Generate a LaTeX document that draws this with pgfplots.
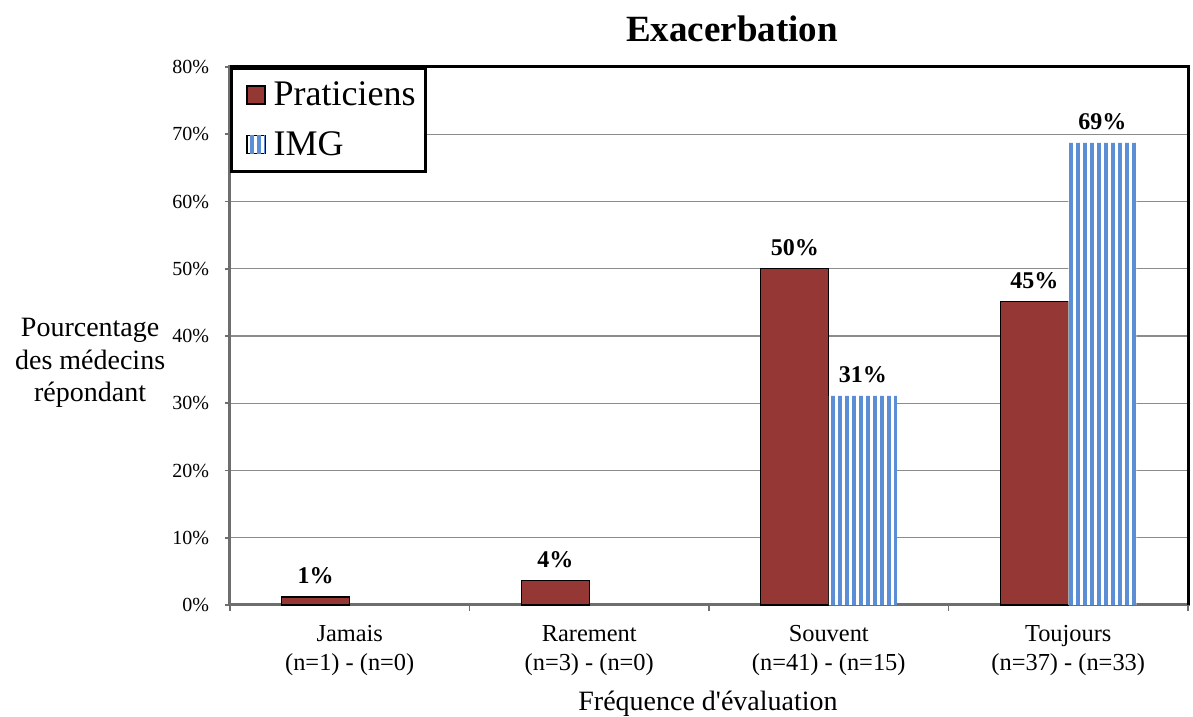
\documentclass[border=0pt]{standalone}
\usepackage{pgfplots}
\pgfplotsset{compat=1.18}
\usepackage{fontspec}
\setmainfont{Liberation Serif}
\usetikzlibrary{patterns.meta}

\definecolor{pratred}{RGB}{149,55,53}
\definecolor{imgblue}{RGB}{92,142,214}
\definecolor{gridgray}{RGB}{140,140,140}
\definecolor{axisgray}{RGB}{110,110,110}

\begin{document}
\begin{tikzpicture}
\begin{axis}[
  scale only axis,
  width=479pt, height=269pt,
  ybar=0pt, bar width=34pt,
  xmin=-0.5, xmax=3.5,
  ymin=0, ymax=80,
  /pgf/number format/assume math mode=true,
  xtick={0,1,2,3},
  xticklabels={{Jamais\\(n=1) - (n=0)},{Rarement\\(n=3) - (n=0)},
               {Souvent\\(n=41) - (n=15)},{Toujours\\(n=37) - (n=33)}},
  xticklabel style={align=center, font=\fontsize{12.2}{14.5}\selectfont, yshift=-4pt},
  major x tick style={draw=none},
  minor xtick={-0.5,0.5,1.5,2.5,3.5},
  minor x tick style={axisgray, line width=0.8pt},
  minor tick length=3pt,
  ytick={0,10,...,80},
  yticklabel={\pgfmathprintnumber{\tick}\%},
  yticklabel style={font=\fontsize{10}{12}\selectfont, xshift=-4.5pt},
  y tick style={axisgray, line width=0.8pt},
  major tick length=2.5pt,
  tick align=outside,
  xtick pos=bottom, ytick pos=left,
  ymajorgrids,
  grid style={gridgray, line width=0.6pt},
  axis line style={axisgray, line width=1.5pt},
  title={Exacerbation},
  every axis title shift=0pt,
  title style={font=\bfseries\fontsize{18.5}{22}\selectfont, inner sep=0pt,
               at={(rel axis cs:0.524,1.07)}, anchor=center, yshift=0pt},
  xlabel={Fréquence d\textquotesingle évaluation},
  xlabel style={font=\fontsize{14}{16}\selectfont, inner sep=0pt,
                at={(rel axis cs:0.499,-0.183)}, anchor=center},
  ylabel={Pourcentage\\des médecins\\répondant},
  ylabel style={font=\fontsize{14}{16.2}\selectfont, align=center,
                rotate=-90, at={(rel axis cs:-0.146,0.45)}, anchor=center},
  nodes near coords={\pgfmathprintnumber[fixed,precision=0]{\pgfplotspointmeta}\%},
  nodes near coords style={font=\bfseries\fontsize{12}{14}\selectfont,
                           black, yshift=3pt},
  legend style={at={(rel axis cs:0,1)}, anchor=north west,
                draw=black, line width=1.5pt, fill=white,
                font=\fontsize{18}{21}\selectfont,
                inner xsep=1pt, inner ysep=5.5pt, row sep=9.5pt,
                nodes={inner ysep=1pt, inner xsep=4pt}},
  legend cell align=left,
  legend image code/.code={
    \path (0pt,0pt);
    \draw[#1, line width=0.6pt] (6.5pt,-4.5pt) rectangle (15.5pt,4.5pt);
  },
  clip=false,
]
% Praticiens
\addplot[fill=pratred, draw=black, line width=0.6pt]
  coordinates {(0,1.2) (1,3.6) (2,50.0) (3,45.1)};
\addlegendentry{Praticiens}
% IMG (no answers for Jamais and Rarement)
\addplot[fill=white, draw=none,
         postaction={pattern={Lines[angle=90,distance=3.5pt,line width=2pt]},
                     pattern color=imgblue}]
  coordinates {(2,31.1) (3,68.7)};
\addlegendentry{IMG}
\end{axis}
% black frame on top and right of the plot area
\draw[black, line width=1.5pt]
  (current axis.south east) -- (current axis.north east) -- (current axis.north west);
% page extent
\path (current axis.south west) ++(-115pt,-55pt);
\path (current axis.north east) ++(2.5pt,33.5pt);
\end{tikzpicture}
\end{document}
